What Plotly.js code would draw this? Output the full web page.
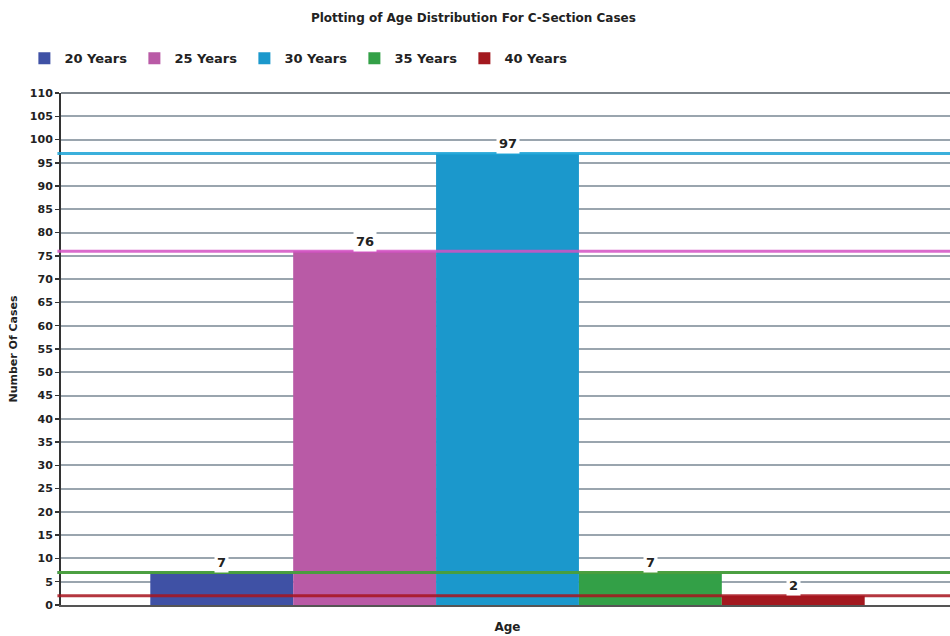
<!DOCTYPE html>
<html>
<head>
<meta charset="utf-8">
<script src="https://cdn.plot.ly/plotly-3.0.1.min.js"></script>
<style>
  html, body { margin: 0; padding: 0; background: #fff; overflow: hidden; }
  #chart { width: 954px; height: 636px; }
</style>
</head>
<body>
<div id="chart"></div>
<script>
// Age groups and number of C-section cases in each
const ageGroups = ['20 Years', '25 Years', '30 Years', '35 Years', '40 Years'];
const caseCounts = [7, 76, 97, 7, 2];
const barColors = ['#3f51a5', '#b95aa6', '#1b98cc', '#33a047', '#a3191f'];
const levelColors = ['#3f51a5', '#d452c4', '#1aa3d6', '#4aaa2e', '#a8141e'];
const yTickValues = [0, 5, 10, 15, 20, 25, 30, 35, 40, 45, 50, 55, 60, 65, 70, 75, 80, 85, 90, 95, 100, 105, 110];

const FONT = 'DejaVu Sans, sans-serif';
const BAR_GAP = 0.2;

// one bar trace per age group, grouped at a single x position
const traces = ageGroups.map((name, i) => ({
  type: 'bar',
  name: name,
  x: [0],
  y: [caseCounts[i]],
  marker: { color: barColors[i], line: { width: 0 } },
  hoverinfo: 'name+y'
}));

// centre of each bar inside the group
const groupWidth = 1 - BAR_GAP;
const barWidth = groupWidth / ageGroups.length;
const barCentre = i => -groupWidth / 2 + barWidth * (i + 0.5);

// value labels with a white backing so the gridlines break around them
const annotations = caseCounts.map((v, i) => ({
  x: barCentre(i), y: v, xref: 'x', yref: 'y',
  text: String(v), showarrow: false,
  yanchor: 'middle', yshift: 10,
  bgcolor: '#ffffff', borderpad: 2,
  font: { family: FONT, size: 13, color: '#222', weight: 'bold' }
}));

// level line across the whole plot for each group's value
const shapes = caseCounts.map((v, i) => ({
  type: 'line', xref: 'paper', yref: 'y',
  x0: -0.004, x1: 1, y0: v, y1: v,
  layer: 'above', opacity: 0.85,
  line: { color: levelColors[i], width: 3 }
}));
// darker frame line along the top of the plot area
shapes.unshift({
  type: 'line', xref: 'paper', yref: 'paper',
  x0: 0, x1: 1, y0: 1, y1: 1, layer: 'below',
  line: { color: '#7d858c', width: 2 }
});

const layout = {
  width: 954, height: 636,
  margin: { l: 61, r: 0, t: 93, b: 31 },
  paper_bgcolor: '#ffffff', plot_bgcolor: '#ffffff',
  font: { family: FONT, color: '#222' },
  title: {
    text: 'Plotting of Age Distribution For C-Section Cases',
    font: { family: FONT, size: 12, color: '#222', weight: 'bold' },
    x: 0.4962, xanchor: 'center', y: 0.972, yanchor: 'middle'
  },
  barmode: 'group', bargap: BAR_GAP, bargroupgap: 0,
  showlegend: true,
  legend: {
    orientation: 'h', x: -0.041, xanchor: 'left', y: 1.068, yanchor: 'middle',
    font: { family: FONT, size: 13, color: '#222', weight: 'bold' },
    entrywidth: 65, entrywidthmode: 'pixels', traceorder: 'normal',
    itemclick: false, itemdoubleclick: false
  },
  xaxis: {
    type: 'linear', range: [-0.5, 0.5], showticklabels: false, ticks: '',
    showgrid: false, zeroline: false, showline: true,
    linecolor: '#555', linewidth: 2, fixedrange: true,
    title: { text: 'Age', font: { family: FONT, size: 12, color: '#222', weight: 'bold' }, standoff: 17 }
  },
  yaxis: {
    range: [0, 110], tickmode: 'array', tickvals: yTickValues,
    ticks: 'outside', ticklen: 4, tickwidth: 1.5, tickcolor: '#333',
    tickfont: { family: FONT, size: 11, color: '#222', weight: 'bold' },
    showgrid: true, gridcolor: '#9aa5ae', gridwidth: 2,
    zeroline: false, showline: true, linecolor: '#333', linewidth: 2,
    fixedrange: true,
    title: { text: 'Number Of Cases', font: { family: FONT, size: 11, color: '#222', weight: 'bold' }, standoff: 10 }
  },
  annotations: annotations,
  shapes: shapes
};

Plotly.newPlot('chart', traces, layout, { displayModeBar: false, staticPlot: true });
</script>
</body>
</html>
